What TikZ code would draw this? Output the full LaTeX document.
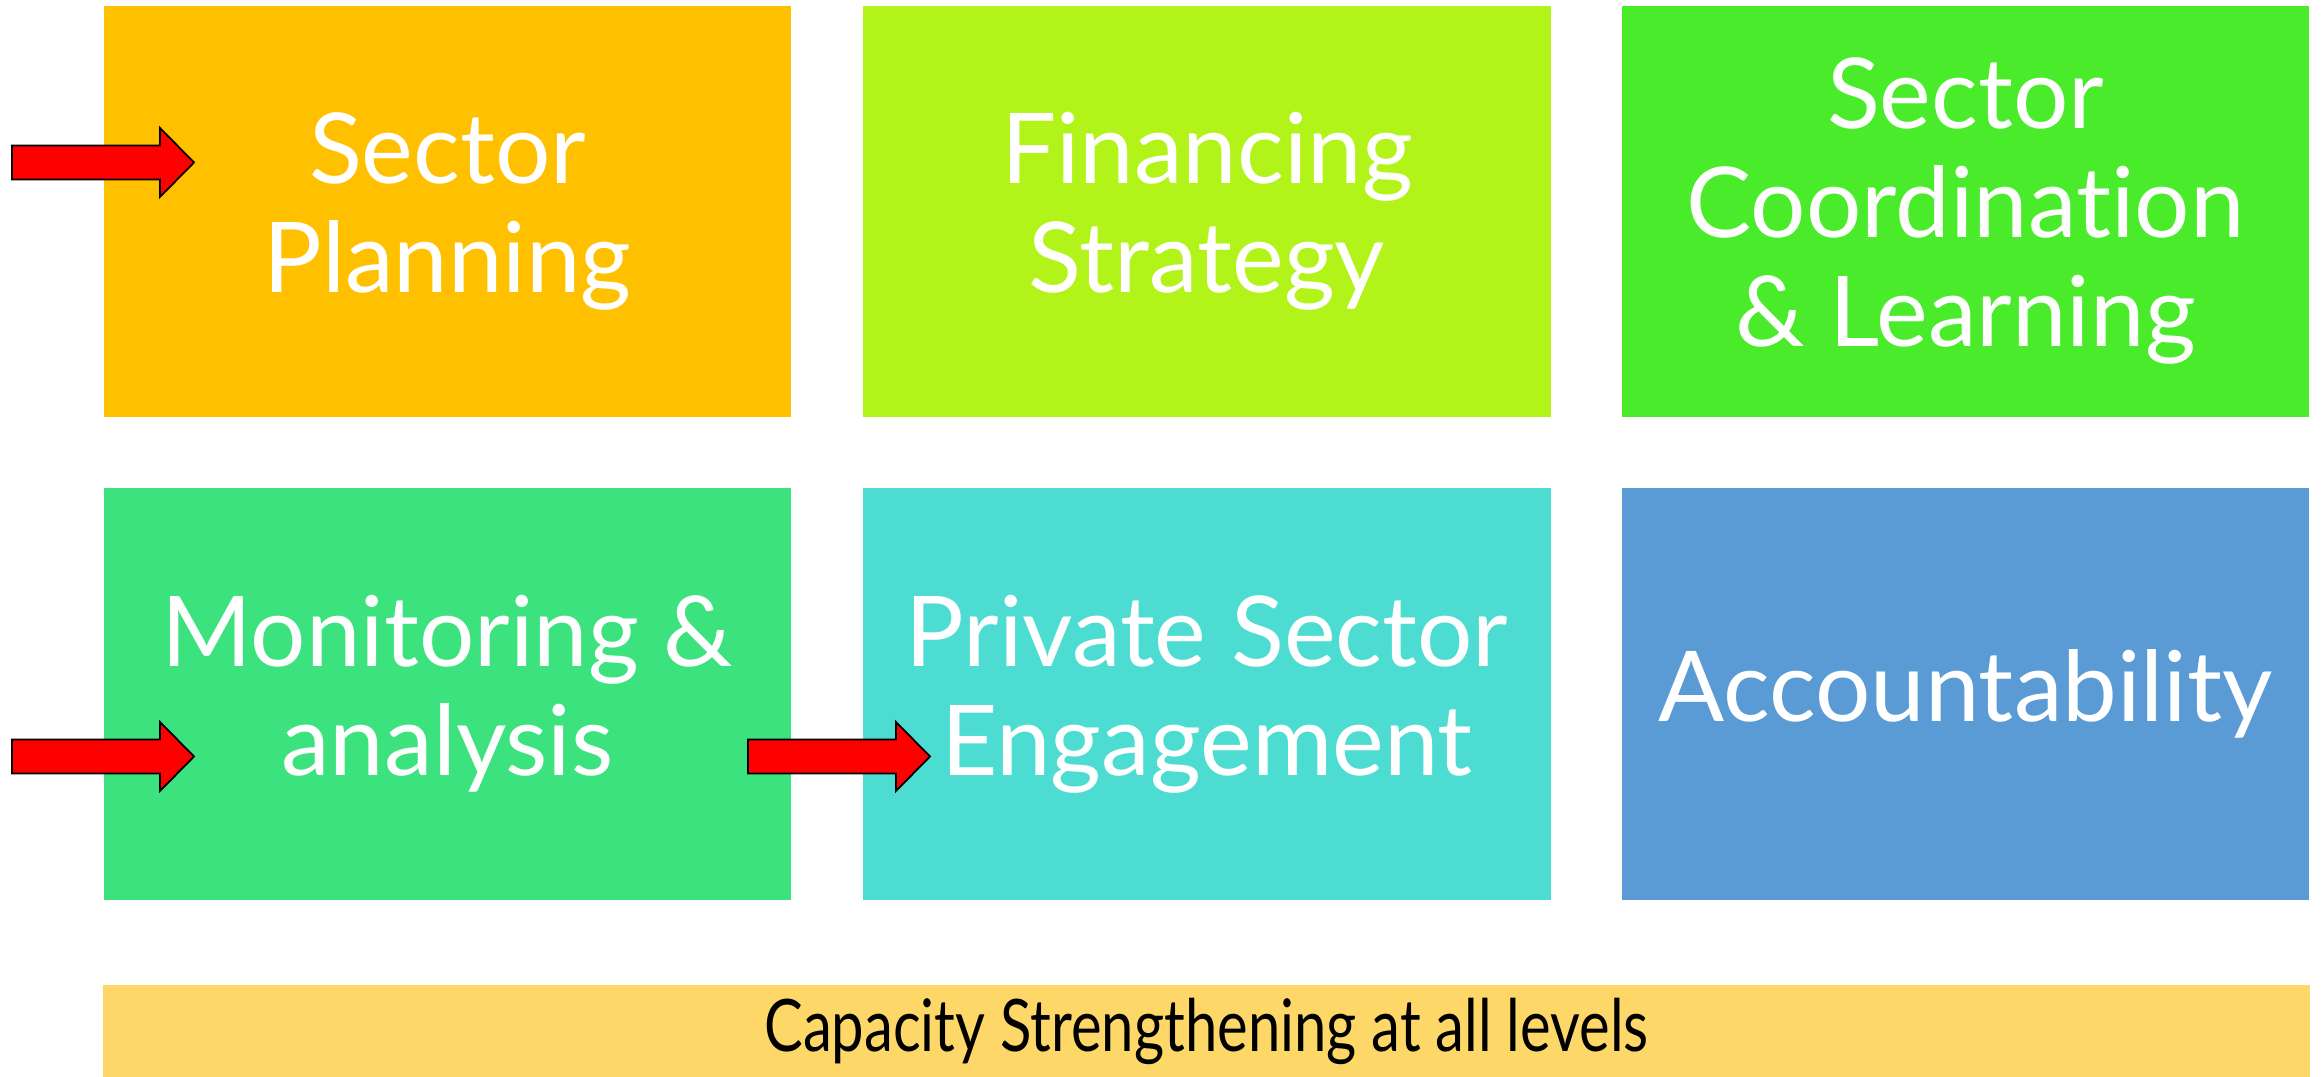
\documentclass[tikz,border=0pt]{standalone}
\usepackage{fontspec}
\setmainfont{Lato}[Ligatures=NoCommon]
\newfontfamily\barfont[FakeStretch=0.8,Ligatures=NoCommon]{Lato}
\usetikzlibrary{positioning}

\definecolor{planorange}{HTML}{FFC000}
\definecolor{finlime}{HTML}{B2F419}
\definecolor{coordgreen}{HTML}{4AEB2B}
\definecolor{mongreen}{HTML}{3CE27D}
\definecolor{privteal}{HTML}{4CDCD2}
\definecolor{accblue}{HTML}{5B9BD5}
\definecolor{capyellow}{HTML}{FDD868}

\begin{document}
\begin{tikzpicture}[
  x=0.01cm, y=-0.01cm,
  box/.style={rectangle, inner sep=0pt, minimum width=6.87cm, minimum height=4.11cm,
              align=center, text=white, font=\fontsize{27.8}{31}\selectfont},
  redarrow/.style={fill=red, draw=black, line width=0.5pt, line join=miter},
  pics/pointer/.style={code={
    \path[redarrow] (0,-17) -- (148,-17) -- (148,-34.5) -- (182,0)
      -- (148,34.5) -- (148,17) -- (0,17) -- cycle;}}
]
\useasboundingbox (0,0) rectangle (2323,1077);

% Top row
\node[box, fill=planorange] (plan) at (447.5,211.5) {Sector\\Planning};
\node[box, fill=finlime] (fin) at (1207,211.5) {Financing\\Strategy};
\node[box, fill=coordgreen] (coord) at (1965.5,211.5) {Sector\\Coordination\\\& Learning};

% Bottom row
\node[box, fill=mongreen] (mon) at (447.5,694) {Monitoring \&\\analysis};
\node[box, fill=privteal] (priv) at (1207,694) {Private Sector\\Engagement};
\node[box, fill=accblue] (acc) at (1965.5,694) {Accountability};

% Base bar
\node[rectangle, fill=capyellow, inner sep=0pt, minimum width=22.05cm, minimum height=0.92cm,
      font=\barfont\fontsize{20.6}{24}\selectfont] (cap) at (1206.5,1031) {Capacity Strengthening at all levels};

% Pointers
\pic at (12,162.5) {pointer};
\pic at (12,756.5) {pointer};
\pic at (748,756.5) {pointer};

\end{tikzpicture}
\end{document}
